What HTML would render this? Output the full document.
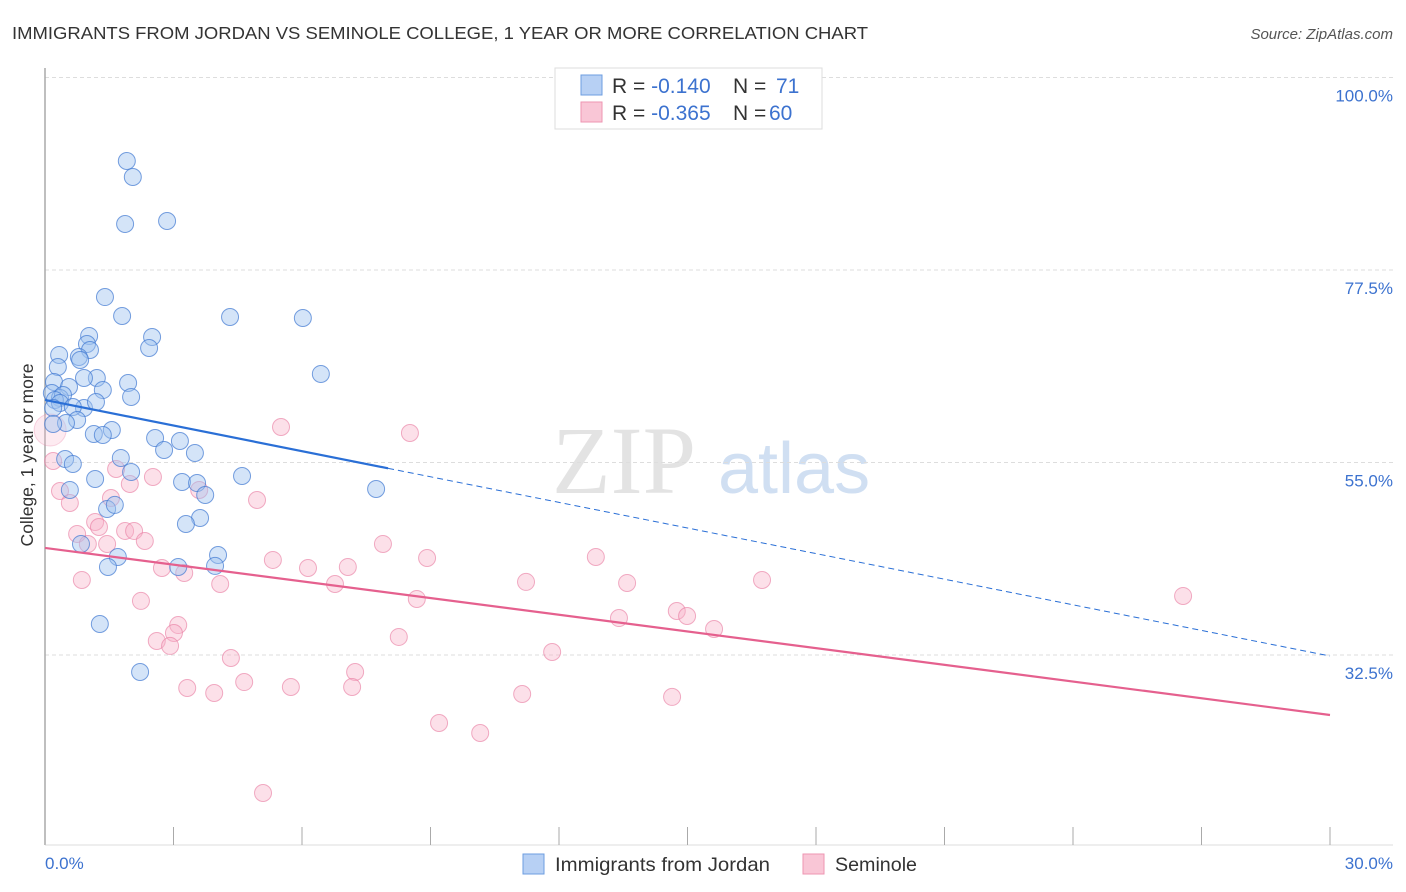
<!DOCTYPE html>
<html><head><meta charset="utf-8"><style>
body{margin:0;background:#fff;width:1406px;height:892px;overflow:hidden;font-family:"Liberation Sans",sans-serif;}
svg{display:block}
</style></head><body>
<svg id="chart" width="1406" height="892">
<text x="12" y="39" font-size="17.5" fill="#333" textLength="856" lengthAdjust="spacingAndGlyphs">IMMIGRANTS FROM JORDAN VS SEMINOLE COLLEGE, 1 YEAR OR MORE CORRELATION CHART</text>
<text x="1393" y="39" font-size="15" fill="#555" font-style="italic" text-anchor="end">Source: ZipAtlas.com</text>
<g>
<text x="552" y="493" font-size="96" fill="#ddd" font-family="Liberation Serif,serif" opacity="0.8">ZIP</text>
<text x="718" y="493" font-size="72" fill="#c5d8f0" opacity="0.8">atlas</text>
</g>
<g id="grid"></g>
<g id="marks"></g>
<text x="33" y="455" font-size="17.5" fill="#333" text-anchor="middle" transform="rotate(-90 33 455)">College, 1 year or more</text>
<g>
<rect x="555" y="68" width="267" height="61" fill="#fff" stroke="#ddd"/>
<rect x="581" y="75" width="21" height="20" fill="#b7d0f4" stroke="#6c9ee0"/>
<rect x="581" y="102" width="21" height="20" fill="#f9c6d6" stroke="#ee95b2"/>
<text x="612" y="93" font-size="21" fill="#333">R = <tspan fill="#3c72cf">-0.140</tspan><tspan x="733">N = </tspan><tspan x="776" fill="#3c72cf">71</tspan></text>
<text x="612" y="120" font-size="21" fill="#333">R = <tspan fill="#3c72cf">-0.365</tspan><tspan x="733">N = </tspan><tspan x="769" fill="#3c72cf">60</tspan></text>
</g>
<g>
<rect x="523" y="854" width="21" height="20" fill="#b7d0f4" stroke="#6c9ee0"/>
<text x="555" y="871" font-size="19.5" fill="#333" textLength="215" lengthAdjust="spacingAndGlyphs">Immigrants from Jordan</text>
<rect x="803" y="854" width="21" height="20" fill="#f9c6d6" stroke="#ee95b2"/>
<text x="835" y="871" font-size="19.5" fill="#333" textLength="82" lengthAdjust="spacingAndGlyphs">Seminole</text>
</g>
</svg>
<script>
const yTicks=[100,77.5,55,32.5];
const yTickLabels=["100.0%","77.5%","55.0%","32.5%"];
const xTicks=[0,3,6,9,12,15,18,21,24,27,30];
const xTickLabels=["0.0%","30.0%"];
const blueX=[1.91,2.05,1.87,2.85,1.40,1.80,4.32,6.02,2.50,1.03,0.98,1.05,2.43,0.33,0.79,0.82,6.44,0.30,1.21,0.91,1.94,0.21,0.56,1.35,2.01,0.16,0.35,0.42,0.23,0.35,0.19,0.91,0.65,1.19,0.75,0.49,0.19,1.56,1.14,1.35,2.57,3.15,2.78,3.50,1.77,0.47,0.65,2.01,4.60,1.17,3.20,3.55,3.74,7.73,0.58,1.45,1.63,3.62,3.29,0.84,4.04,1.70,3.11,1.47,3.97,1.28,2.22];
const blueY=[90.24,88.37,82.88,83.23,74.34,72.12,72.01,71.89,69.67,69.79,68.85,68.15,68.38,67.57,67.33,66.98,65.35,66.16,64.88,64.88,64.29,64.41,63.83,63.47,62.66,63.12,62.54,62.89,62.31,61.96,61.37,61.37,61.49,62.07,59.97,59.62,59.50,58.80,58.33,58.22,57.86,57.51,56.46,56.11,55.53,55.41,54.83,53.89,53.42,53.07,52.72,52.60,51.20,51.90,51.79,49.57,50.04,48.51,47.81,45.48,44.19,43.96,42.79,42.79,42.91,36.12,30.51];
const pinkX=[5.51,8.52,0.19,1.66,2.52,1.98,0.35,1.54,4.95,3.60,0.58,1.17,1.26,1.87,2.08,0.75,2.33,1.00,1.45,7.89,5.32,8.92,12.86,2.73,6.14,7.07,3.25,0.86,4.09,6.77,11.23,13.59,16.74,26.57,8.68,2.24,14.75,14.99,13.40,15.62,3.11,3.01,2.61,2.92,8.26,11.84,4.34,7.24,4.65,3.32,3.95,5.74,7.17,11.14,14.64,9.20,10.16,5.09,0.12];
const pinkY=[59.15,58.45,55.18,54.24,53.31,52.49,51.67,50.85,50.62,51.79,50.27,48.05,47.46,47.00,47.00,46.65,45.83,45.48,45.48,45.48,43.61,43.84,43.96,42.67,42.67,42.79,42.09,41.27,40.80,40.80,41.04,40.92,41.27,39.40,39.05,38.82,37.64,37.06,36.82,35.54,36.00,35.07,34.14,33.56,34.61,32.85,32.15,30.51,29.34,28.64,28.06,28.76,28.76,27.94,27.60,24.55,23.38,16.37,58.80];
const blueTrend=[62.31,32.38]; const blueSolidEnd=8.01;
const pinkTrend=[45.01,25.49];
const X0=45,X1=1330,Y100=77.5,PX=192.5/22.5;
const sx=v=>X0+(X1-X0)*v/30;
const sy=v=>Y100+(100-v)*PX;
const NS="http://www.w3.org/2000/svg";
function mk(tag,attrs,parent){const e=document.createElementNS(NS,tag);for(const k in attrs)e.setAttribute(k,attrs[k]);parent.appendChild(e);return e;}
const grid=document.getElementById('grid'),marks=document.getElementById('marks');
yTicks.forEach((t,i)=>{
 const l=mk('line',{x1:X0,x2:1393,y1:sy(t),y2:sy(t),stroke:'#ddd','stroke-dasharray':'4 3'},grid);
 
 
 const tx=mk('text',{x:1393,y:sy(t)+24,'font-size':17,fill:'#3c72cf','text-anchor':'end'},grid);
 tx.textContent=yTickLabels[i];
 
 
});
const ax=mk('line',{x1:X0,x2:X0,y1:68,y2:845,stroke:'#aaa','stroke-width':1.5},grid);


const bx=mk('line',{x1:X0,x2:1393,y1:845,y2:845,stroke:'#ddd'},grid);


xTicks.forEach(t=>{
 const l=mk('line',{x1:sx(t),x2:sx(t),y1:827,y2:845,stroke:'#aaa'},grid);
 
 
});
const xl0=mk('text',{x:X0,y:869,'font-size':17,fill:'#3c72cf'},grid);xl0.textContent=xTickLabels[0];


const xl1=mk('text',{x:1393,y:869,'font-size':17,fill:'#3c72cf','text-anchor':'end'},grid);xl1.textContent=xTickLabels[1];


pinkX.forEach((x,i)=>{
 const big=i===pinkX.length-1;
 const c=mk('circle',{cx:sx(x),cy:sy(pinkY[i]),r:big?16:8.5,fill:big?'rgba(247,177,199,0.25)':'rgba(247,177,199,0.4)',stroke:big?'rgba(232,120,158,0.3)':'rgba(232,120,158,0.6)','stroke-width':1},marks);
 
 
});
blueX.forEach((x,i)=>{
 const c=mk('circle',{cx:sx(x),cy:sy(blueY[i]),r:8.5,fill:'rgba(160,196,240,0.45)',stroke:'rgba(62,120,210,0.7)','stroke-width':1},marks);
 
 
});
const bAt=x=>blueTrend[0]+(blueTrend[1]-blueTrend[0])*x/30;
const t1=mk('line',{x1:sx(0),y1:sy(blueTrend[0]),x2:sx(blueSolidEnd),y2:sy(bAt(blueSolidEnd)),stroke:'#2a6fd6','stroke-width':2.2},marks);


const t2=mk('line',{x1:sx(blueSolidEnd),y1:sy(bAt(blueSolidEnd)),x2:sx(30),y2:sy(blueTrend[1]),stroke:'#2a6fd6','stroke-width':1,'stroke-dasharray':'6 4'},marks);


const t3=mk('line',{x1:sx(0),y1:sy(pinkTrend[0]),x2:sx(30),y2:sy(pinkTrend[1]),stroke:'#e5608e','stroke-width':2.2},marks);


</script>
</body></html>
